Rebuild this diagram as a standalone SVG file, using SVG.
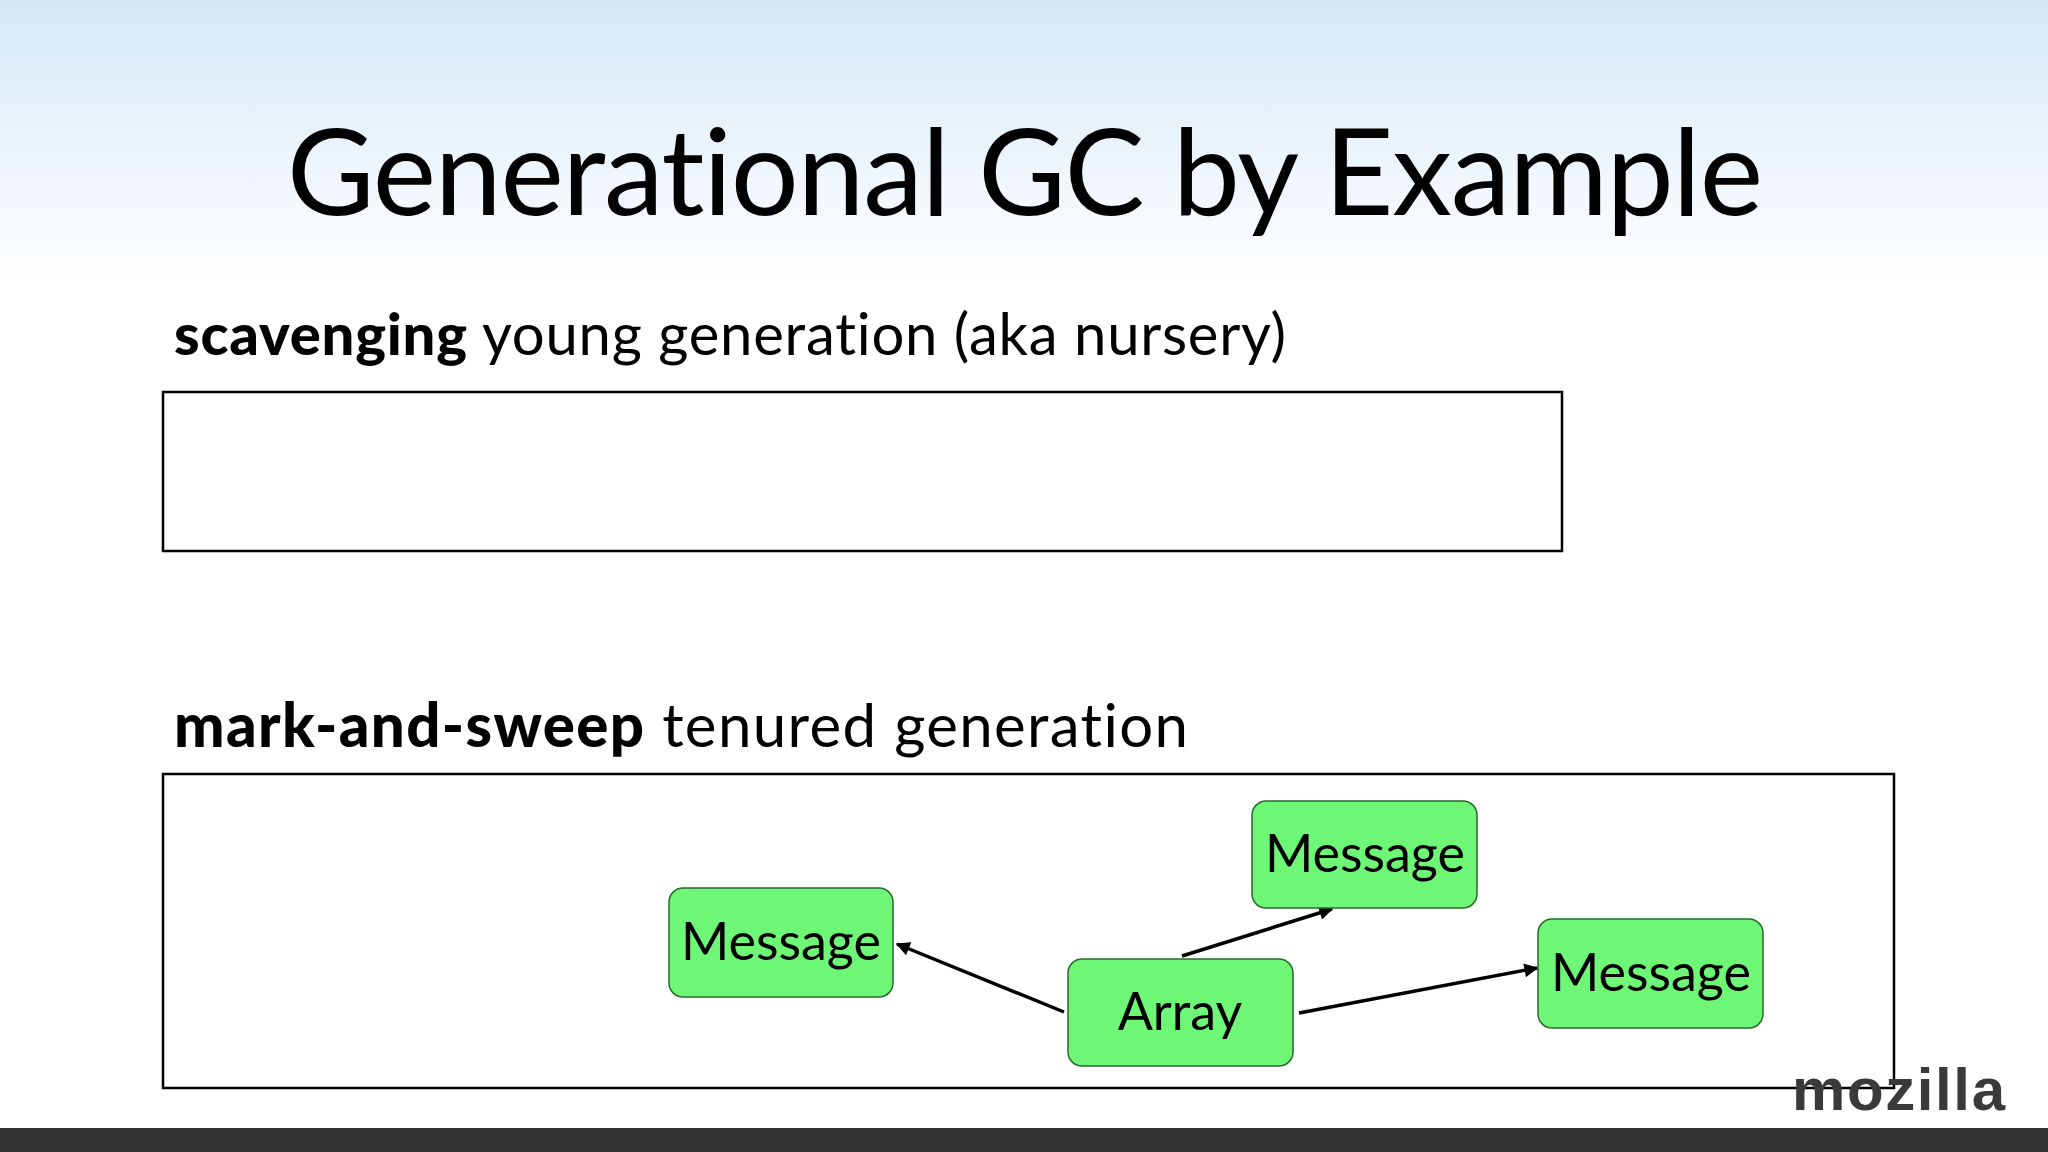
<svg xmlns="http://www.w3.org/2000/svg" width="2048" height="1152" viewBox="0 0 2048 1152">
<defs>
<linearGradient id="bg" x1="0" y1="0" x2="0" y2="1">
<stop offset="0" stop-color="#d6e8f8"/><stop offset="0.25" stop-color="#ffffff"/><stop offset="1" stop-color="#ffffff"/>
</linearGradient>
<marker id="ah" viewBox="0 0 10 10" refX="9" refY="5" markerWidth="16" markerHeight="14" orient="auto" markerUnits="userSpaceOnUse">
<path d="M0,0 L10,5 L0,10 z" fill="#000"/>
</marker>
<style>
.t{font-family:"Lato","Open Sans",sans-serif;fill:#000;font-variant-ligatures:none}
.box{fill:#fff;stroke:#000;stroke-width:2.5}
.node rect{fill:#6ef677;stroke:#2a6a2a;stroke-width:1.5}
.node text{font-family:"Lato","Open Sans",sans-serif;font-size:52px;text-anchor:middle;fill:#000}
.c{stroke:#000;stroke-width:3.5;fill:none;marker-end:url(#ah)}
</style>
</defs>
<rect width="2048" height="1152" fill="url(#bg)"/>
<text class="t" x="1025" y="215" font-size="120" text-anchor="middle" textLength="1476">Generational GC by Example</text>
<text class="t" x="174" y="355" font-size="58" textLength="1112"><tspan font-weight="900">scavenging</tspan> young generation (aka nursery)</text>
<rect class="box" x="163" y="392" width="1399" height="159"/>
<text class="t" x="174" y="747" font-size="60" textLength="1014"><tspan font-weight="900">mark-and-sweep</tspan> tenured generation</text>
<rect class="box" x="163" y="774" width="1731" height="314"/>
<g id="connectors">
<line class="c" x1="1064" y1="1012" x2="897" y2="944"/>
<line class="c" x1="1182" y1="956" x2="1332" y2="909"/>
<line class="c" x1="1299" y1="1013" x2="1537" y2="968"/>
</g>
<g id="msg1" class="node"><rect x="669" y="888" width="224" height="109" rx="14"/><text x="781" y="960">Message</text></g>
<g id="msg2" class="node"><rect x="1252" y="801" width="225" height="107" rx="14"/><text x="1365" y="872">Message</text></g>
<g id="array" class="node"><rect x="1068" y="959" width="225" height="107" rx="14"/><text x="1180" y="1030">Array</text></g>
<g id="msg3" class="node"><rect x="1538" y="919" width="225" height="109" rx="14"/><text x="1651" y="991">Message</text></g>
<text x="1792" y="1110" font-family="Liberation Sans, sans-serif" font-weight="bold" font-size="60" fill="#3a3a3a" textLength="213">mozilla</text>
<rect x="0" y="1128" width="2048" height="24" fill="#333"/>
</svg>
